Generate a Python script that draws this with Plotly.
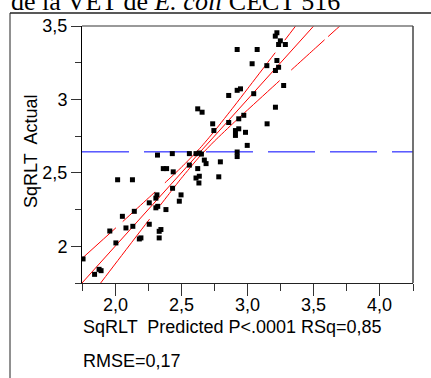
import plotly.graph_objects as go

# ---- data ----
x_pred = [1.758, 1.845, 1.879, 1.894, 1.960, 2.006, 2.019, 2.131, 2.055, 2.082,
          2.134, 2.145, 2.183, 2.195, 2.258, 2.258, 2.308, 2.322, 2.316, 2.308,
          2.384, 2.333, 2.333, 2.346, 2.320, 2.364, 2.389, 2.432, 2.439, 2.434,
          2.498, 2.485, 2.561, 2.561, 2.611, 2.636, 2.652, 2.624, 2.636, 2.611,
          2.633, 2.674, 2.687, 2.624, 2.657, 2.737, 2.746, 2.858, 2.934, 2.909,
          2.909, 2.985, 3.148, 2.998, 2.922, 2.922, 2.795, 2.783, 2.972, 2.934,
          3.211, 2.947, 2.922, 2.858, 3.047, 3.273, 3.035, 3.146, 3.222, 3.235,
          3.211, 2.922, 3.073, 3.222, 3.210, 3.248, 3.235, 3.286]
y_actual = [1.914, 1.809, 1.843, 1.834, 2.104, 2.023, 2.453, 2.453, 2.204, 2.125,
            2.136, 2.238, 2.050, 2.057, 2.296, 2.150, 2.262, 2.272, 2.350, 2.328,
            2.250, 2.057, 2.102, 2.114, 2.621, 2.529, 2.529, 2.631, 2.507, 2.395,
            2.350, 2.307, 2.631, 2.553, 2.631, 2.635, 2.628, 2.529, 2.477, 2.465,
            2.431, 2.587, 2.563, 2.936, 2.913, 2.834, 2.788, 2.843, 2.800, 2.788,
            2.755, 2.776, 2.834, 2.687, 2.642, 2.611, 2.575, 2.473, 2.892, 2.868,
            2.947, 3.072, 3.062, 3.027, 3.039, 3.095, 3.243, 3.230, 3.265, 3.219,
            3.197, 3.340, 3.340, 3.454, 3.431, 3.399, 3.374, 3.374]

fit_x = [1.75, 3.5]
fit_y = [1.75, 3.5]

band_up_x = [1.75, 2.0, 2.25, 2.4, 2.5, 2.64, 2.75, 2.9, 3.0, 3.25, 3.5]
band_up_y = [1.917, 2.121, 2.327, 2.452, 2.537, 2.667, 2.784, 2.955, 3.072, 3.366, 3.661]
band_lo_x = [1.89, 2.0, 2.25, 2.4, 2.5, 2.64, 2.75, 2.9, 3.0, 3.25, 3.5, 3.75]
band_lo_y = [1.749, 1.879, 2.173, 2.348, 2.463, 2.613, 2.716, 2.845, 2.928, 3.134, 3.339, 3.543]

mean_x = [1.75, 4.25]
mean_actual = 2.643

x_ticks = [2.0, 2.5, 3.0, 3.5, 4.0]
x_ticklabels = ["2,0", "2,5", "3,0", "3,5", "4,0"]
x_minor = [1.75, 2.25, 2.75, 3.25, 3.75, 4.25]
y_ticks = [2.0, 2.5, 3.0, 3.5]
y_ticklabels = ["2", "2,5", "3", "3,5"]
y_minor = [1.75, 2.25, 2.75, 3.25]

FONT = "Liberation Sans, Arial, sans-serif"

fig = go.Figure()
fig.add_trace(go.Scatter(x=mean_x, y=[mean_actual] * len(mean_x), mode="lines",
                         line=dict(color="#0000ff", width=1, dash="47px,15px"),
                         hoverinfo="skip"))
fig.add_trace(go.Scatter(x=fit_x, y=fit_y, mode="lines",
                         line=dict(color="#ff0000", width=1), hoverinfo="skip"))
fig.add_trace(go.Scatter(x=band_up_x, y=band_up_y, mode="lines",
                         line=dict(color="#ff0000", width=1, shape="spline", smoothing=0.6,
                                   dash="46px,9px,44px,13px,171px,16px,300px"),
                         hoverinfo="skip"))
fig.add_trace(go.Scatter(x=band_lo_x, y=band_lo_y, mode="lines",
                         line=dict(color="#ff0000", width=1, shape="spline", smoothing=0.6,
                                   dash="81px,17px,173px,16px,45px,5px,300px"),
                         hoverinfo="skip"))
fig.add_trace(go.Scatter(x=x_pred, y=y_actual, mode="markers",
                         marker=dict(symbol="square", size=5, color="#000000",
                                     line=dict(width=0)),
                         hoverinfo="skip"))

fig.update_layout(
    width=431, height=378,
    margin=dict(l=82, r=18, t=26, b=95, pad=0),
    paper_bgcolor="white", plot_bgcolor="white",
    showlegend=False,
    font=dict(family=FONT, size=18, color="black"),
    xaxis=dict(range=[1.75, 4.25], showgrid=False, zeroline=False,
               showline=True, linecolor="#222", linewidth=1,
               ticks="outside", ticklen=12, tickcolor="#333", tickwidth=1,
               tickvals=x_ticks, showticklabels=False,
               minor=dict(tickvals=x_minor, ticks="outside", ticklen=7,
                          tickcolor="#333", tickwidth=1)),
    yaxis=dict(range=[1.75, 3.5], showgrid=False, zeroline=False,
               showline=True, linecolor="#000", linewidth=1,
               ticks="outside", ticklen=10, tickcolor="#333", tickwidth=1,
               tickvals=y_ticks, ticktext=y_ticklabels,
               tickfont=dict(family=FONT, size=18),
               minor=dict(tickvals=y_minor, ticks="outside", ticklen=6,
                          tickcolor="#333", tickwidth=1)),
)

# x tick labels placed on the x scale
for tv, tl in zip(x_ticks, x_ticklabels):
    fig.add_annotation(text=tl, xref="x", yref="paper", x=tv, y=-0.0856,
                       xanchor="center", yanchor="middle", showarrow=False,
                       borderpad=0, font=dict(family=FONT, size=18))

# plot frame (top / right)
fig.add_shape(type="line", xref="paper", yref="paper", x0=0, x1=1, y0=1, y1=1,
              line=dict(color="#777", width=1.5))
fig.add_shape(type="line", xref="paper", yref="paper", x0=1, x1=1, y0=0, y1=1,
              line=dict(color="#444", width=1.5))
# outer report frame
fig.add_shape(type="line", xref="paper", yref="paper", x0=-0.2175, x1=-0.2175,
              y0=1.0506, y1=-0.40, line=dict(color="#222", width=1))
fig.add_shape(type="line", xref="paper", yref="paper", x0=-0.2175, x1=1.06,
              y0=1.0506, y1=1.0506, line=dict(color="#222", width=1.5))

# texts
fig.add_annotation(text="de la VET de <i>E. coli</i> CECT 516", xref="paper", yref="paper",
                   x=-0.2175, y=1.035, xanchor="left", yanchor="bottom", showarrow=False,
                   borderpad=0, font=dict(family="Liberation Serif, Times New Roman, serif",
                                          size=26, color="black"))
fig.add_annotation(text="SqRLT  Actual", xref="paper", yref="paper",
                   x=-0.154, y=0.51, xanchor="center", yanchor="middle", textangle=-90,
                   showarrow=False, borderpad=0, font=dict(family=FONT, size=18))
fig.add_annotation(text="SqRLT  Predicted P<.0001 RSq=0,85", xref="paper", yref="paper",
                   x=0.0, y=-0.1712, xanchor="left", yanchor="middle",
                   showarrow=False, borderpad=0, font=dict(family=FONT, size=18))
fig.add_annotation(text="RMSE=0,17", xref="paper", yref="paper",
                   x=0.0, y=-0.3035, xanchor="left", yanchor="middle",
                   showarrow=False, borderpad=0, font=dict(family=FONT, size=18))

fig.write_html("out.html")
